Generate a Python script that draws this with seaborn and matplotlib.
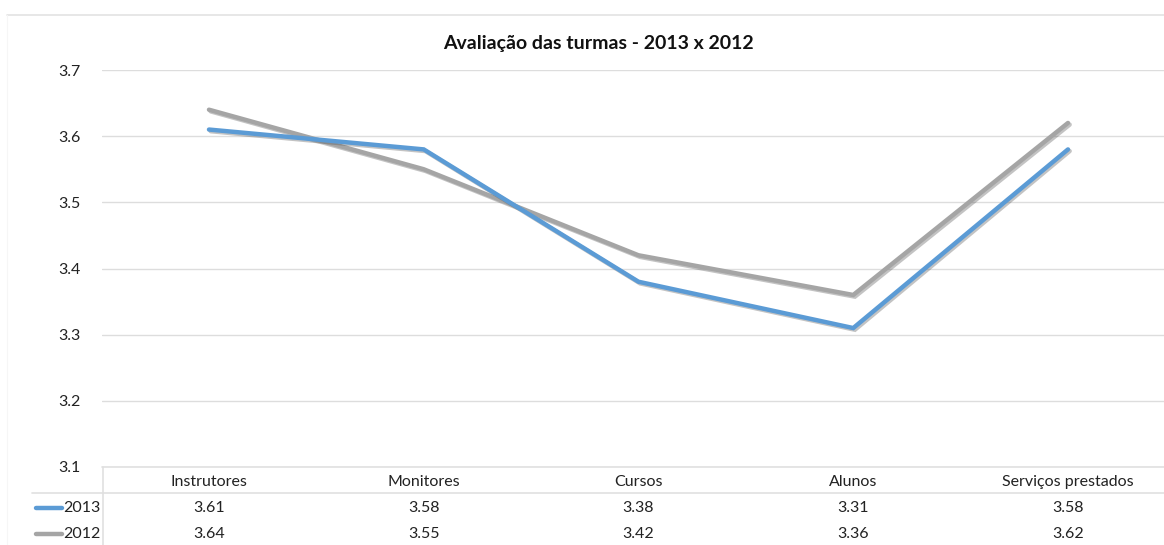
import matplotlib
matplotlib.use("Agg")
import matplotlib.pyplot as plt
import matplotlib.patheffects as pe
from matplotlib.lines import Line2D
import matplotlib.transforms as mtransforms
import seaborn as sns
import pandas as pd

categories = ["Instrutores", "Monitores", "Cursos", "Alunos", "Serviços prestados"]
series_names = ["2013", "2012"]
values_2013 = [3.61, 3.58, 3.38, 3.31, 3.58]
values_2012 = [3.64, 3.55, 3.42, 3.36, 3.62]
y_ticks = [3.1, 3.2, 3.3, 3.4, 3.5, 3.6, 3.7]
colors = {"2013": "#5B9BD5", "2012": "#A5A5A5"}
title = "Avaliação das turmas - 2013 x 2012"

sns.set_theme(style="white")
plt.rcParams["font.family"] = ["Lato", "DejaVu Sans"]

df = pd.DataFrame({
    "categoria": categories * 2,
    "pos": list(range(len(categories))) * 2,
    "nota": values_2013 + values_2012,
    "ano": [series_names[0]] * len(categories) + [series_names[1]] * len(categories),
})

W, H = 1164, 545
fig = plt.figure(figsize=(W / 100, H / 100), dpi=100)
x0, x1 = 101.6, 1164
y_top, y_bot = 70, 467
ax = fig.add_axes([x0 / W, 1 - y_bot / H, (x1 - x0) / W, (y_bot - y_top) / H])

FS = 11.5
TXT = "#222222"

shadow = [pe.SimpleLineShadow(offset=(1.2, -1.2), shadow_color="#555555", alpha=0.35), pe.Normal()]
sns.lineplot(data=df, x="pos", y="nota", hue="ano", hue_order=["2012", "2013"],
             palette=colors, linewidth=3.2, ax=ax, legend=False, sort=False)
for ln in ax.get_lines():
    ln.set_path_effects(shadow)
    ln.set_solid_capstyle("round")
    ln.set_solid_joinstyle("miter")

ax.set_xlim(-0.5, 4.447)
ax.set_ylim(3.1, 3.7)
ax.set_yticks(y_ticks)
ax.set_yticklabels([f"{v:.1f}" for v in y_ticks], fontsize=FS, color=TXT)
ax.tick_params(axis="y", length=0, pad=15)
ax.set_xticks([])
ax.set_xlabel("")
ax.set_ylabel("")
for s in ax.spines.values():
    s.set_visible(False)
ax.grid(axis="y", color="#DDDDDD", linewidth=1.0)
ax.set_axisbelow(True)

# Title and outer frame line
fig.text(598 / W, 1 - 44 / H, title, ha="center", va="center",
         fontsize=14, fontweight="bold", color="#111111")
fig.add_artist(Line2D([7 / W, 1], [1 - 14.5 / H] * 2, color="#E3E3E3", lw=1.2))
fig.add_artist(Line2D([7 / W, 7 / W], [0, 1 - 14.5 / H], color="#F6F6F6", lw=0.8))

# Data table below the plot
tr = mtransforms.blended_transform_factory(ax.transData, fig.transFigure)
fig.add_artist(Line2D([x0 / W, 1], [1 - 467 / H] * 2, color="#E0E0E0", lw=1.2))
fig.add_artist(Line2D([32 / W, 1], [1 - 493 / H] * 2, color="#E0E0E0", lw=1.2))
fig.add_artist(Line2D([103 / W, 103 / W], [0, 1 - 467 / H], color="#E0E0E0", lw=1.2))

row_y = {"cat": 1 - 482 / H, "2013": 1 - 508 / H, "2012": 1 - 534 / H}
for i, c in enumerate(categories):
    fig.text(i, row_y["cat"], c, transform=tr, ha="center", va="center",
             fontsize=FS, color=TXT)
    fig.text(i, row_y["2013"], f"{values_2013[i]:.2f}", transform=tr, ha="center",
             va="center", fontsize=FS, color=TXT)
    fig.text(i, row_y["2012"], f"{values_2012[i]:.2f}", transform=tr, ha="center",
             va="center", fontsize=FS, color=TXT)

for name in series_names:
    yy = row_y[name]
    fig.add_artist(Line2D([36 / W, 62 / W], [yy, yy], color=colors[name], lw=3.2,
                          solid_capstyle="round"))
    fig.text(63 / W, yy, name, ha="left", va="center", fontsize=FS, color=TXT)

fig.savefig("out.png", dpi=100, facecolor="white")
